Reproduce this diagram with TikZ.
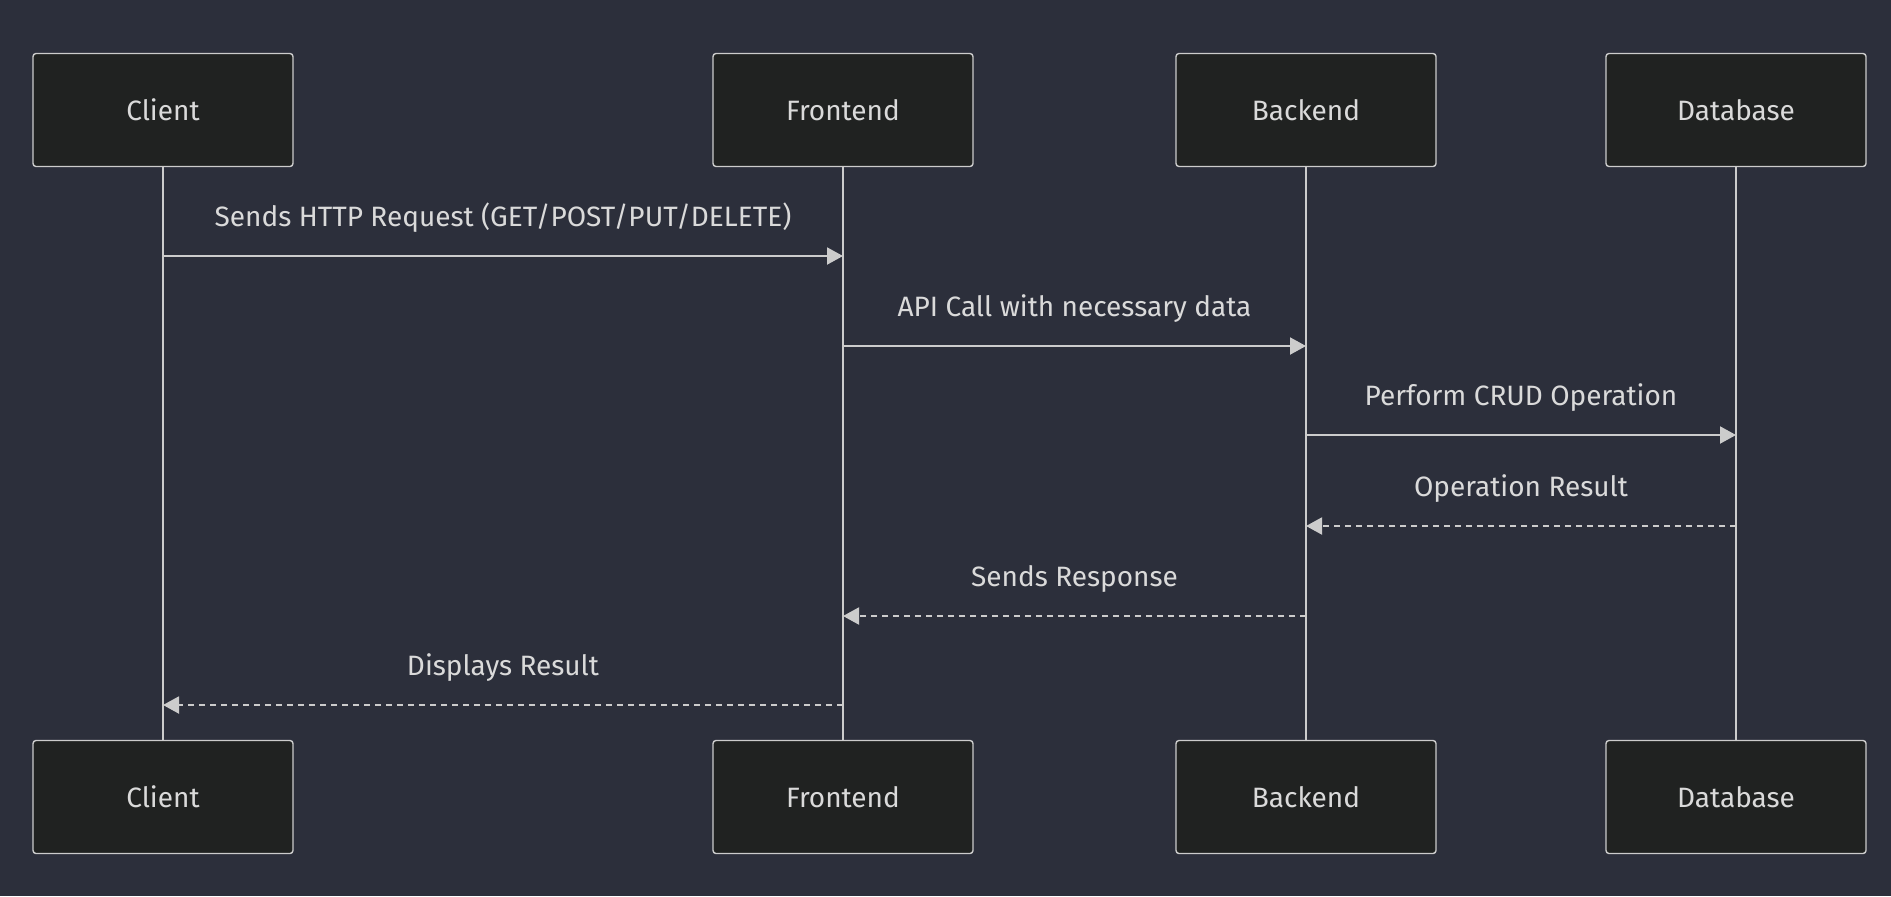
\documentclass[tikz,border=0pt]{standalone}
\usepackage{fontspec}
\setmainfont{Fira Sans}
\usetikzlibrary{arrows.meta}
\definecolor{bgcol}{HTML}{2C2F3B}
\definecolor{boxfill}{HTML}{202221}
\definecolor{linecol}{HTML}{CCCCCC}
\definecolor{textcol}{HTML}{DADADA}
\tikzset{
  actor/.style={draw=linecol,fill=boxfill,rounded corners=1.5pt,line width=0.7pt,
    minimum width=130pt,minimum height=56.5pt,text=textcol,font=\fontsize{14}{16}\selectfont},
  lifeline/.style={draw=linecol,line width=1.4pt},
  msg/.style={draw=linecol,line width=1pt,-{Triangle[length=8pt,width=8.5pt]}},
  reply/.style={msg,dash pattern=on 3pt off 2.5pt},
  msglabel/.style={text=textcol,font=\fontsize{14}{16}\selectfont},
}
\begin{document}
\begin{tikzpicture}[x=0.5pt,y=-0.5pt]
    \fill[bgcol] (0,0) rectangle (1891,896);
    \useasboundingbox (0,0) rectangle (1891,896);

    \node[actor] (cl)  at (163 ,110) {Client};
    \node[actor] (fe)  at (843 ,110) {Frontend};
    \node[actor] (be)  at (1306,110) {Backend};
    \node[actor] (db)  at (1736,110) {Database};

    \node[actor] (clb) at (163 ,797) {Client};
    \node[actor] (feb) at (843 ,797) {Frontend};
    \node[actor] (beb) at (1306,797) {Backend};
    \node[actor] (dbb) at (1736,797) {Database};

    \draw[lifeline] (cl) -- (clb);
    \draw[lifeline] (fe) -- (feb);
    \draw[lifeline] (be) -- (beb);
    \draw[lifeline] (db) -- (dbb);

    % message ends on the lifelines
    \coordinate (c1) at (163 ,256);  \coordinate (f1) at (843 ,256);
    \coordinate (f2) at (843 ,346);  \coordinate (b2) at (1306,346);
    \coordinate (b3) at (1306,435);  \coordinate (d3) at (1736,435);
    \coordinate (d4) at (1736,526);  \coordinate (b4) at (1306,526);
    \coordinate (b5) at (1306,616);  \coordinate (f5) at (843 ,616);
    \coordinate (f6) at (843 ,705);  \coordinate (c6) at (163 ,705);

    \draw[msg]   (c1) -- (f1) node[msglabel,midway,above=8pt] {Sends HTTP Request (GET/POST/PUT/DELETE)};
    \draw[msg]   (f2) -- (b2) node[msglabel,midway,above=8pt] {API Call with necessary data};
    \draw[msg]   (b3) -- (d3) node[msglabel,midway,above=8pt] {Perform CRUD Operation};
    \draw[reply] (d4) -- (b4) node[msglabel,midway,above=8pt] {Operation Result};
    \draw[reply] (b5) -- (f5) node[msglabel,midway,above=8pt] {Sends Response};
    \draw[reply] (f6) -- (c6) node[msglabel,midway,above=8pt] {Displays Result};
\end{tikzpicture}
\end{document}
